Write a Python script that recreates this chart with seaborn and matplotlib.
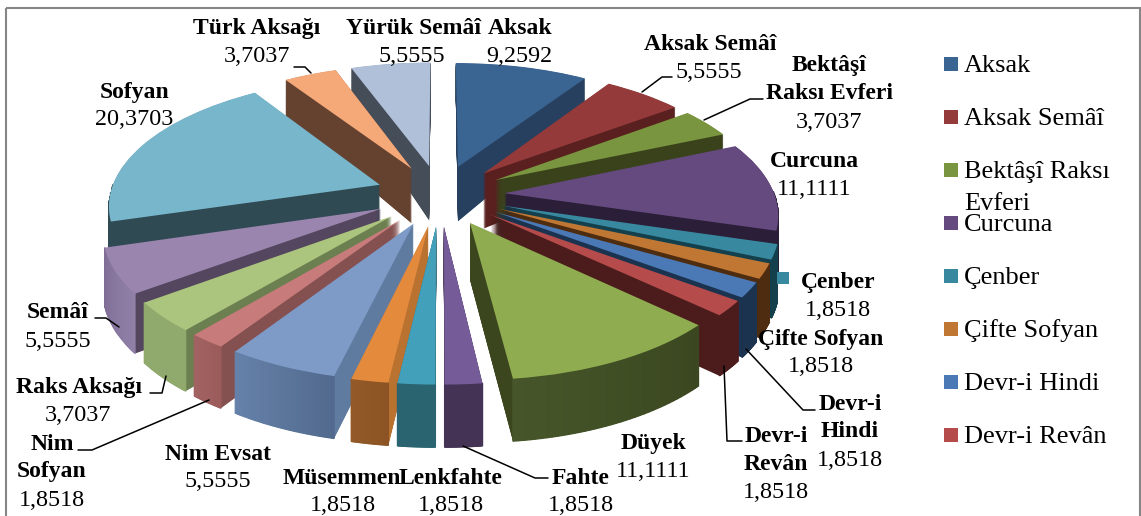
import matplotlib
matplotlib.use('Agg')
import matplotlib.pyplot as plt
from matplotlib.patches import Rectangle
from matplotlib.transforms import Transform
import numpy as np
import seaborn as sns

categories = ['Aksak', 'Aksak Semâî', 'Bektâşî Raksı Evferi', 'Curcuna', 'Çenber', 'Çifte Sofyan',
              'Devr-i Hindi', 'Devr-i Revân', 'Düyek', 'Fahte', 'Lenkfahte', 'Müsemmen', 'Nim Evsat',
              'Nim Sofyan', 'Raks Aksağı', 'Semâî', 'Sofyan', 'Türk Aksağı', 'Yürük Semâî Aksak']
values = [9.2592, 5.5555, 3.7037, 11.1111, 1.8518, 1.8518, 1.8518, 1.8518, 11.1111, 1.8518,
          1.8518, 1.8518, 5.5555, 1.8518, 3.7037, 5.5555, 20.3703, 3.7037, 5.5555]
value_labels = ['9,2592', '5,5555', '3,7037', '11,1111', '1,8518', '1,8518', '1,8518', '1,8518', '11,1111',
                '1,8518', '1,8518', '1,8518', '5,5555', '1,8518', '3,7037', '5,5555', '20,3703', '3,7037', '5,5555']
legend_labels = ['Aksak', 'Aksak Semâî', 'Bektâşî Raksı', 'Curcuna', 'Çenber', 'Çifte Sofyan',
                 'Devr-i Hindi', 'Devr-i Revân']

top_colors = ['#3A6491', '#953A3A', '#7A953F', '#644A7E', '#38899F', '#C07733', '#4A79B5', '#B54B4A',
              '#8FAD50', '#755B98', '#43A0BA', '#E38A3D', '#7E9BC8', '#C77B7A', '#ABC47E', '#9A85AF',
              '#78B6CC', '#F5A878', '#B0C0D9']
cut_colors = ['#28405F', '#5A2020', '#3A421C', '#2A1E38', '#14404E', '#4E2C10', '#1C3350', '#4C1C1C',
              '#3C461E', '#453355', '#2A6470', '#BA7231', '#5F7BA0', '#855050', '#6C7F50', '#54465E',
              '#2F4A52', '#654230', '#454D58']
wall_left = ['#28405F', '#5A2020', '#3A421C', '#2A1E38', '#14404E', '#4E2C10', '#1C3350', '#4C1C1C',
             '#46562A', '#453355', '#2A6470', '#935A28', '#6682AA', '#A36362', '#90A96C', '#7F6D96',
             '#2F4A52', '#654230', '#454D58']
wall_right = ['#28405F', '#5A2020', '#3A421C', '#2A1E38', '#14404E', '#4E2C10', '#1C3350', '#4C1C1C',
              '#3B4720', '#453355', '#2A6470', '#8C5424', '#536A8E', '#9A5B5A', '#90A96C', '#9080A8',
              '#2F4A52', '#654230', '#454D58']

sns.set_theme(style='white')
plt.rcParams['font.family'] = ['Liberation Serif', 'DejaVu Serif']

EXPLODE = 0.24
CX, CY = 440, 195
SX, SY = 270, 126
PERSP = 0.142


def project(x, y, lift):
    d = 1 + PERSP * y
    depth = np.interp(y, [-1.3, 0.2, 1.1], [63, 55, 37])
    return CX + SX * x / d, CY - SY * y / d + lift * depth


class PieView(Transform):
    input_dims = 2
    output_dims = 2

    def __init__(self, lift):
        super().__init__()
        self.lift = lift

    def transform_non_affine(self, xy):
        xy = np.asarray(xy)
        sx, sy = project(xy[:, 0], xy[:, 1], self.lift)
        return np.column_stack([sx, sy])


fig = plt.figure(figsize=(11.41, 5.16), dpi=100)
ax = fig.add_axes([0, 0, 1, 1])

# slice angles, back slices get drawn first
vals = np.array(values)
ends = 90 - 360 * np.cumsum(vals) / vals.sum()
starts = np.append(90, ends[:-1])
mids = (starts + ends) / 2
rank = np.argsort(np.argsort(-np.sin(np.radians(mids))))

layers = np.linspace(1, 0, 90)
for lift in layers:
    colors = top_colors if lift == 0 else cut_colors
    wedges, _ = ax.pie(vals, explode=[EXPLODE] * len(vals), startangle=90, counterclock=False,
                       colors=colors, wedgeprops=dict(linewidth=0))
    for i, w in enumerate(wedges):
        w.set_transform(PieView(lift) + ax.transData)
        w.set_clip_on(False)
        w.set_zorder(10 + rank[i] + (0.6 if lift == 0 else 0))

# outer wall, only where it faces the viewer
for i in range(len(vals)):
    th = np.radians(np.linspace(ends[i], starts[i], 40))
    th = th[np.sin(th) < 0.02]
    if len(th) < 2:
        continue
    m = np.radians(mids[i])
    ox, oy = EXPLODE * np.cos(m), EXPLODE * np.sin(m)
    px, py = ox + np.cos(th), oy + np.sin(th)
    order = np.argsort(project(px, py, 0)[0])
    px, py = px[order], py[order]
    shades = sns.blend_palette([wall_left[i], wall_right[i]], len(px) - 1)
    for k in range(len(px) - 1):
        x0, y0 = project(px[k:k + 2], py[k:k + 2], 0)
        x1, y1 = project(px[k:k + 2], py[k:k + 2], 1)
        ax.fill(np.r_[x0, x1[::-1]], np.r_[y0, y1[::-1]], color=shades[k], lw=0.9,
                zorder=10 + rank[i] + 0.3)

ax.set_aspect('auto')
ax.set_xlim(0, 1141)
ax.set_ylim(516, 0)
ax.axis('off')

# border
ax.add_patch(Rectangle((6, 8), 1134, 520, fill=False, ec='#868686', lw=1.5, zorder=1, clip_on=True))

# slice labels: name lines, value, x centre, y of first line, y of value
label_lines = [
    (['Aksak'], 520, [27], 519, 54),
    (['Aksak Semâî'], 710, [43], 709, 70),
    (['Bektâşî', 'Raksı Evferi'], 829, [64, 92], 829, 120),
    (['Curcuna'], 814, [160], 814, 187),
    (['Çenber'], 838, [281], 838, 308),
    (['Çifte Sofyan'], 821, [338], 821, 364),
    (['Devr-i', 'Hindi'], 850, [403, 430], 850, 458),
    (['Devr-i', 'Revân'], 776, [435, 463], 776, 490),
    (['Düyek'], 653, [442], 653, 469),
    (['Fahte'], 581, [477], 581, 503),
    (['Lenkfahte'], 451, [477], 451, 503),
    (['Müsemmen'], 342, [477], 343, 503),
    (['Nim Evsat'], 218, [453], 218, 479),
    (['Nim', 'Sofyan'], 52, [443, 470], 52, 498),
    (['Raks Aksağı'], 79, [386], 78, 413),
    (['Semâî'], 58, [311], 58, 339),
    (['Sofyan'], 135, [91], 134, 117),
    (['Türk Aksağı'], 257, [27], 257, 54),
    (['Yürük Semâî'], 414, [27], 412, 54),
]
for (lines, lx, ys, vx, vy), val in zip(label_lines, value_labels):
    for line, y in zip(lines, ys):
        ax.text(lx, y + 7, line, ha='center', va='baseline', fontsize=17, fontweight='bold',
                color='black', zorder=50)
    ax.text(vx, vy + 8, val, ha='center', va='baseline', fontsize=17.4, color='black', zorder=50)

# leader lines
leaders = [
    ([294, 305, 311], [67, 67, 73]),
    ([672, 662, 642], [77, 77, 92]),
    ([763, 750, 704], [99, 99, 120]),
    ([95, 106, 119], [318, 318, 327]),
    ([150, 162, 166], [393, 393, 376]),
    ([78, 92, 209], [450, 450, 400]),
    ([548, 535, 463], [478, 478, 446]),
    ([742, 727, 724], [441, 441, 366]),
    ([815, 803, 746], [410, 410, 349]),
]
for lx, ly in leaders:
    ax.plot(lx, ly, color='black', lw=1.1, zorder=45)

# stray key next to the Çenber label
ax.add_patch(Rectangle((777, 272), 12, 12, fc=top_colors[4], ec='none', zorder=50))

# legend
legend_y = [64, 117, 170, 223, 276, 329, 382, 435]
for name, col, y in zip(legend_labels, top_colors, legend_y):
    ax.add_patch(Rectangle((944, y - 7), 14, 14, fc=col, ec='none', zorder=50))
    ax.text(964, y + 8, name, ha='left', va='baseline', fontsize=19, color='black', zorder=50)
ax.text(964, 210, 'Evferi', ha='left', va='baseline', fontsize=19, color='black', zorder=50)

plt.savefig('out.png', dpi=100)
